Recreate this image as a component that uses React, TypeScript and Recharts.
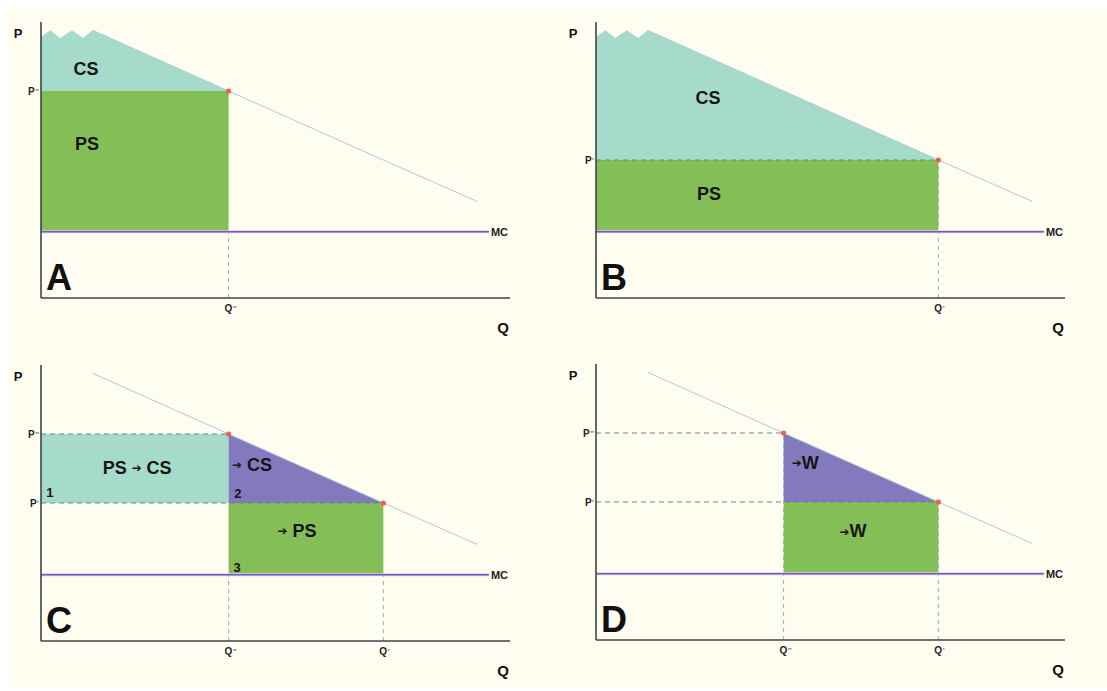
import React from 'react';
import { ComposedChart, XAxis, YAxis, Area, Line, ReferenceArea, ReferenceLine, ReferenceDot, Label } from 'recharts';

// quantity / price levels (chart units, axes run 0..100)
const qHigh = 40; // Q''
const qLow = 73; // Q'
const pHigh = 75; // P''
const pLow = 50; // P'
const mc = 24;
const mcEnd = 95.5;

// demand curve
const demandQ = [11, 40, 73, 93];
const demandP = [97, 75, 50, 35];

// broken-off top of the demand curve (zig-zag)
const jagQ = [0, 2, 4.1, 6.6, 9];
const jagP = [94.6, 97, 94.2, 97, 94.2];

const FONT = '"Liberation Sans", Arial, Helvetica, sans-serif';
const BG = '#fffcf0';
const TEAL = '#a6dbcc';
const GREEN = '#84be56';
const PURPLE = '#8479bd';
const DEMAND = '#a8cde0';
const MC_BLUE = '#5a62d2';
const AXIS = '#3c4646';

const demand = demandQ.map((q, i) => ({ q, p: demandP[i] }));

const csBand = (until: number, base: number) => [
    ...jagQ.map((q, i) => ({ q, band: [base, jagP[i]] })),
    ...demand.filter((d) => d.q <= until).map((d) => ({ q: d.q, band: [base, d.p] })),
];

const triangle = demand.filter((d) => d.q >= qHigh && d.q <= qLow).map((d) => ({ q: d.q, band: [pLow, d.p] }));

const primes = (v: number, hi: number) => (Number(v) === hi ? "''" : "'");

const PTick = (props: any) => {
    const { x, y, payload } = props;
    return (
        <text x={x} y={y} dy={4} textAnchor="end" fontFamily={FONT} fontSize={10} fontWeight={700} fill="#222">
            P<tspan fontSize={8} dy={-1} dx={0.5} fill="#666">{primes(payload.value, pHigh)}</tspan>
        </text>
    );
};

const QTick = (props: any) => {
    const { x, y, payload } = props;
    return (
        <text x={x - 4} y={y} dy={9} textAnchor="start" fontFamily={FONT} fontSize={10} fontWeight={700} fill="#222">
            Q<tspan fontSize={8} dy={-1} dx={0.5} fill="#666">{primes(payload.value, qHigh)}</tspan>
        </text>
    );
};

// text placed at a data point (centre of a zero-size ReferenceDot)
const region = (text: string, size = 18) => (props: any) => {
    const vb = props.viewBox || {};
    const cx = (vb.x ?? 0) + (vb.width ?? 0) / 2;
    const cy = (vb.y ?? 0) + (vb.height ?? 0) / 2;
    const parts = text.split('→');
    return (
        <text x={cx} y={cy} dy={size * 0.36} textAnchor="middle" fontFamily={FONT} fontSize={size} fontWeight={700} fill="#151515">
            {parts.length === 1 ? (
                text
            ) : (
                <>
                    {parts[0]}
                    <tspan fontSize={size * 0.66} dy={-1.5} fontFamily='"DejaVu Sans", sans-serif'>➔</tspan>
                    <tspan dy={1.5}>{parts[1]}</tspan>
                </>
            )}
        </text>
    );
};

const Tag = ({ q, p, text, size }: { q: number; p: number; text: string; size?: number }) => (
    <ReferenceDot x={q} y={p} r={0} fill="none" stroke="none" ifOverflow="visible" label={region(text, size)} />
);

interface PanelProps {
    letter: string;
    left: number;
    top: number;
    pTicks: number[];
    qTicks: number[];
    children: React.ReactNode;
}

const Panel: React.FC<PanelProps> = ({ letter, left, top, pTicks, qTicks, children }) => (
    <div style={{ position: 'absolute', left, top }}>
        <ComposedChart width={552} height={345} margin={{ top: 22, right: 42, bottom: 0, left: 0 }}>
            <XAxis
                type="number"
                dataKey="q"
                domain={[0, 100]}
                allowDataOverflow
                ticks={qTicks}
                interval={0}
                height={47}
                axisLine={{ stroke: AXIS, strokeWidth: 1.6 }}
                tickLine={false}
                tickSize={0}
                tickMargin={5}
                tick={<QTick />}
            >
                <Label
                    content={(p: any) => {
                        const vb = p.viewBox;
                        return (
                            <g fontFamily={FONT} fontWeight={700} fill="#111">
                                <text x={vb.x + vb.width - 7} y={vb.y + 35} textAnchor="middle" fontSize={15}>Q</text>
                                <text x={vb.x + 18} y={vb.y - 8} textAnchor="middle" fontSize={36}>{letter}</text>
                            </g>
                        );
                    }}
                />
            </XAxis>
            <YAxis
                type="number"
                domain={[0, 100]}
                allowDataOverflow
                ticks={pTicks}
                interval={0}
                width={41}
                axisLine={{ stroke: AXIS, strokeWidth: 1.6 }}
                tickLine={false}
                tickSize={0}
                tickMargin={2}
                tick={<PTick />}
            >
                <Label
                    content={(p: any) => {
                        const vb = p.viewBox;
                        return (
                            <text x={vb.x + 18} y={vb.y + 16} textAnchor="middle" fontFamily={FONT} fontWeight={700} fontSize={13} fill="#111">P</text>
                        );
                    }}
                />
            </YAxis>
            {children}
            <Line data={demand} dataKey="p" type="linear" stroke={DEMAND} strokeWidth={1} dot={false} activeDot={false} isAnimationActive={false} />
            <ReferenceLine segment={[{ x: 0, y: mc }, { x: mcEnd, y: mc }]} stroke="#f6c4d6" strokeWidth={3} ifOverflow="visible" />
            <ReferenceLine segment={[{ x: 0, y: mc }, { x: mcEnd, y: mc }]} stroke={MC_BLUE} strokeWidth={1.4} ifOverflow="visible" />
            <ReferenceDot
                x={mcEnd}
                y={mc}
                r={0}
                fill="none"
                stroke="none"
                ifOverflow="visible"
                label={{ value: 'MC', position: 'right', offset: 2, fontSize: 11, fontWeight: 700, fill: '#222', fontFamily: FONT }}
            />
        </ComposedChart>
    </div>
);

const hDash = (p: number, q: number) => (
    <ReferenceLine segment={[{ x: 0, y: p }, { x: q, y: p }]} stroke="#5f8e88" strokeDasharray="5 4" strokeWidth={1} ifOverflow="visible" />
);
const vDash = (q: number, p: number) => (
    <ReferenceLine segment={[{ x: q, y: 0 }, { x: q, y: p }]} stroke="#7db6d6" strokeDasharray="4 4" strokeWidth={1} ifOverflow="visible" />
);
const redDot = (q: number, p: number) => <ReferenceDot x={q} y={p} r={2.6} fill="#f2604a" stroke="none" ifOverflow="visible" />;

export default function App() {
    return (
        <div style={{ position: 'fixed', left: 0, top: 0, width: 1107, height: 691, background: '#ffffff', overflow: 'hidden' }}>
            <div style={{ position: 'absolute', left: 7, top: 8, right: 0, bottom: 3, background: BG }} />

            <Panel letter="A" left={0} top={0} pTicks={[pHigh]} qTicks={[qHigh]}>
                <Area data={csBand(qHigh, pHigh)} dataKey="band" type="linear" fill={TEAL} fillOpacity={1} stroke="none" dot={false} activeDot={false} isAnimationActive={false} />
                <ReferenceArea x1={0} x2={qHigh} y1={mc} y2={pHigh} fill={GREEN} fillOpacity={1} stroke="none" />
                {vDash(qHigh, mc)}
                {redDot(qHigh, pHigh)}
                <Tag q={9.6} p={83.3} text="CS" />
                <Tag q={9.8} p={55.8} text="PS" />
            </Panel>

            <Panel letter="B" left={555} top={0} pTicks={[pLow]} qTicks={[qLow]}>
                <Area data={csBand(qLow, pLow)} dataKey="band" type="linear" fill={TEAL} fillOpacity={1} stroke="none" dot={false} activeDot={false} isAnimationActive={false} />
                <ReferenceArea x1={0} x2={qLow} y1={mc} y2={pLow} fill={GREEN} fillOpacity={1} stroke="none" />
                {hDash(pLow, qLow)}
                {vDash(qLow, pLow)}
                {redDot(qLow, pLow)}
                <Tag q={23.9} p={72.8} text="CS" />
                <Tag q={24.1} p={38} text="PS" />
            </Panel>

            <Panel letter="C" left={0} top={343} pTicks={[pLow, pHigh]} qTicks={[qHigh, qLow]}>
                <ReferenceArea x1={0} x2={qHigh} y1={pLow} y2={pHigh} fill={TEAL} fillOpacity={1} stroke="none" />
                <Area data={triangle} dataKey="band" type="linear" fill={PURPLE} fillOpacity={1} stroke="none" dot={false} activeDot={false} isAnimationActive={false} />
                <ReferenceArea x1={qHigh} x2={qLow} y1={mc} y2={pLow} fill={GREEN} fillOpacity={1} stroke="none" />
                {hDash(pHigh, qHigh)}
                {hDash(pLow, qLow)}
                {vDash(qHigh, mc)}
                {vDash(qLow, mc)}
                {redDot(qHigh, pHigh)}
                {redDot(qLow, pLow)}
                <Tag q={20.5} p={63} text="PS → CS" />
                <Tag q={45} p={61.6} text="→ CS" />
                <Tag q={54.6} p={37.7} text="→ PS" />
                <Tag q={1.9} p={54} text="1" size={13} />
                <Tag q={42} p={53.6} text="2" size={13} />
                <Tag q={41.8} p={26.8} text="3" size={13} />
            </Panel>

            <Panel letter="D" left={555} top={342} pTicks={[pLow, pHigh]} qTicks={[qHigh, qLow]}>
                <Area data={triangle} dataKey="band" type="linear" fill={PURPLE} fillOpacity={1} stroke="none" dot={false} activeDot={false} isAnimationActive={false} />
                <ReferenceArea x1={qHigh} x2={qLow} y1={mc} y2={pLow} fill={GREEN} fillOpacity={1} stroke="none" />
                {hDash(pHigh, qHigh)}
                {hDash(pLow, qLow)}
                {vDash(qHigh, pHigh)}
                {vDash(qLow, pLow)}
                {redDot(qHigh, pHigh)}
                {redDot(qLow, pLow)}
                <Tag q={44.6} p={62} text="→W" />
                <Tag q={54.8} p={37.3} text="→W" />
            </Panel>
        </div>
    );
}
